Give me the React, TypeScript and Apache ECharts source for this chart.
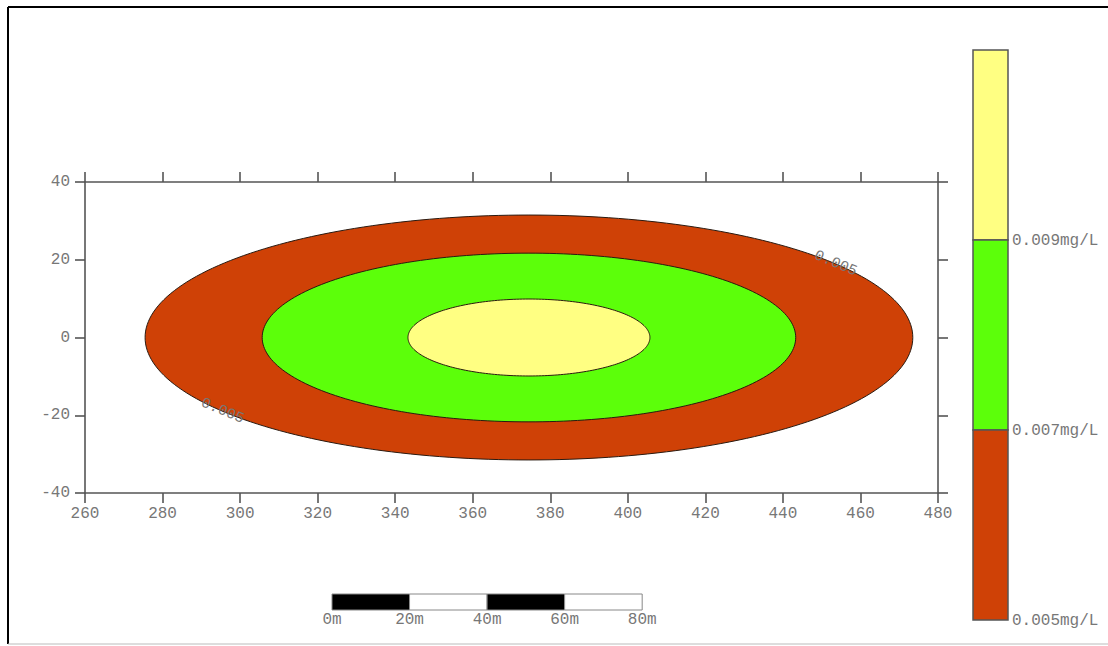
import React, { useEffect, useRef } from "react";
import * as echarts from "echarts";

// Axis ranges
const X_MIN = 260;
const X_MAX = 480;
const X_STEP = 20;
const Y_MIN = -40;
const Y_MAX = 40;
const Y_STEP = 20;

// Contour polygons (ellipses), outer to inner
const contourLevels = [0.005, 0.007, 0.009];
const contourColors = ["#CF4106", "#5CFF0A", "#FFFF82"];
const centerX = [374.5, 374.5, 374.5];
const centerY = [0, 0, 0];
const semiAxisX = [99, 68.8, 31.2];
const semiAxisY = [31.5, 21.7, 9.9];

// Contour line labels
const contourLabelTexts = ["0.005", "0.005"];
const contourLabelLevel = [0, 0];
const contourLabelAngleDeg = [37, 217];

// Colour bar
const legendLabels = ["0.009mg/L", "0.007mg/L", "0.005mg/L"];

// Scale bar
const scaleBarTicks = [0, 20, 40, 60, 80];
const scaleBarLabels = ["0m", "20m", "40m", "60m", "80m"];

const GRID_LEFT = 85;
const GRID_TOP = 182;
const GRID_W = 853;
const GRID_H = 311;

const MONO = "'Liberation Mono', 'DejaVu Sans Mono', monospace";

export default function App() {
  const ref = useRef<HTMLDivElement>(null);

  useEffect(() => {
    if (!ref.current) return;
    const chart = echarts.init(ref.current, null, { renderer: "svg" });

    const ellipseData = contourLevels.map((_, i) => [
      centerX[i],
      centerY[i],
      semiAxisX[i],
      semiAxisY[i],
    ]);
    const labelData = contourLabelTexts.map((_, i) => [
      contourLabelLevel[i],
      contourLabelAngleDeg[i],
    ]);

    const axisLine = { show: true, onZero: false, lineStyle: { color: "#555", width: 1.6 } };
    const axisTick = { show: true, inside: false, length: 10, lineStyle: { color: "#555", width: 1.6 } };
    const axisLabel = { color: "#777", fontFamily: MONO, fontSize: 16 };

    // Colour bar graphics
    const cbX = 973;
    const cbW = 35;
    const cbTop = 50;
    const cbSeg = 190;
    const graphics: any[] = [];
    // frame lines
    graphics.push({ type: "line", shape: { x1: 8, y1: 7, x2: 1108, y2: 7 }, style: { stroke: "#000", lineWidth: 2 } });
    graphics.push({ type: "line", shape: { x1: 8, y1: 7, x2: 8, y2: 644 }, style: { stroke: "#000", lineWidth: 2 } });
    graphics.push({ type: "line", shape: { x1: 8, y1: 644, x2: 1108, y2: 644 }, style: { stroke: "#bbb", lineWidth: 1 } });

    const nLev = contourLevels.length;
    for (let k = 0; k < nLev; k++) {
      const levIdx = nLev - 1 - k; // top is highest level
      graphics.push({
        type: "rect",
        shape: { x: cbX, y: cbTop + k * cbSeg, width: cbW, height: cbSeg },
        style: { fill: contourColors[levIdx], stroke: "#555", lineWidth: 1.5 },
      });
    }
    legendLabels.forEach((t, k) => {
      graphics.push({
        type: "text",
        x: 1012,
        y: cbTop + (k + 1) * cbSeg + 1,
        style: {
          text: t,
          fill: "#777",
          font: `16px ${MONO}`,
          textVerticalAlign: "middle",
          textAlign: "left",
        },
      });
    });

    // Scale bar, length from the x-axis scale
    const pxPerUnit = GRID_W / (X_MAX - X_MIN);
    const sbX = 332;
    const sbY = 594;
    const sbH = 16;
    for (let k = 0; k < scaleBarTicks.length - 1; k++) {
      const x0 = sbX + scaleBarTicks[k] * pxPerUnit;
      const x1 = sbX + scaleBarTicks[k + 1] * pxPerUnit;
      graphics.push({
        type: "rect",
        shape: { x: x0, y: sbY, width: x1 - x0, height: sbH },
        style: { fill: k % 2 === 0 ? "#000" : "#fff", stroke: "#888", lineWidth: 1 },
      });
    }
    scaleBarTicks.forEach((v, k) => {
      graphics.push({
        type: "text",
        x: sbX + v * pxPerUnit,
        y: sbY + sbH + 10,
        style: {
          text: scaleBarLabels[k],
          fill: "#777",
          font: `16px ${MONO}`,
          textAlign: "center",
          textVerticalAlign: "middle",
        },
      });
    });

    chart.setOption({
      animation: false,
      backgroundColor: "#fff",
      grid: { left: GRID_LEFT, top: GRID_TOP, width: GRID_W, height: GRID_H, containLabel: false },
      xAxis: [
        {
          type: "value",
          min: X_MIN,
          max: X_MAX,
          interval: X_STEP,
          position: "bottom",
          axisLine,
          axisTick,
          axisLabel: { ...axisLabel, margin: 13 },
          splitLine: { show: false },
        },
        {
          type: "value",
          min: X_MIN,
          max: X_MAX,
          interval: X_STEP,
          position: "top",
          axisLine,
          axisTick,
          axisLabel: { show: false },
          splitLine: { show: false },
        },
      ],
      yAxis: [
        {
          type: "value",
          min: Y_MIN,
          max: Y_MAX,
          interval: Y_STEP,
          position: "left",
          axisLine,
          axisTick,
          axisLabel: { ...axisLabel, margin: 15 },
          splitLine: { show: false },
        },
        {
          type: "value",
          min: Y_MIN,
          max: Y_MAX,
          interval: Y_STEP,
          position: "right",
          axisLine,
          axisTick,
          axisLabel: { show: false },
          splitLine: { show: false },
        },
      ],
      series: [
        {
          type: "custom",
          xAxisIndex: 0,
          yAxisIndex: 0,
          data: ellipseData,
          encode: { x: 0, y: 1 },
          renderItem: (params: any, api: any) => {
            const i = params.dataIndex;
            const cx = api.value(0);
            const cy = api.value(1);
            const a = api.value(2);
            const b = api.value(3);
            const pts: number[][] = [];
            const N = 240;
            for (let k = 0; k < N; k++) {
              const t = (k / N) * Math.PI * 2;
              pts.push(api.coord([cx + a * Math.cos(t), cy + b * Math.sin(t)]));
            }
            return {
              type: "polygon",
              shape: { points: pts },
              style: { fill: contourColors[i], stroke: "#2a1a10", lineWidth: 1 },
            };
          },
          z: 2,
        },
        {
          type: "custom",
          xAxisIndex: 0,
          yAxisIndex: 0,
          data: labelData,
          encode: { x: 0, y: 1 },
          renderItem: (params: any, api: any) => {
            const i = params.dataIndex;
            const lev = api.value(0);
            const tDeg = api.value(1);
            const t = (tDeg * Math.PI) / 180;
            const cx = centerX[lev];
            const cy = centerY[lev];
            const a = semiAxisX[lev];
            const b = semiAxisY[lev];
            const p = api.coord([cx + a * Math.cos(t), cy + b * Math.sin(t)]);
            const t2 = t + 0.01;
            const p2 = api.coord([cx + a * Math.cos(t2), cy + b * Math.sin(t2)]);
            let ang = Math.atan2(p2[1] - p[1], p2[0] - p[0]);
            if (ang > Math.PI / 2) ang -= Math.PI;
            if (ang < -Math.PI / 2) ang += Math.PI;
            return {
              type: "text",
              x: p[0],
              y: p[1],
              rotation: -ang,
              style: {
                text: contourLabelTexts[i],
                fill: "#777",
                font: `15px ${MONO}`,
                textAlign: "center",
                textVerticalAlign: "middle",
              },
            };
          },
          z: 3,
        },
      ],
      graphic: graphics,
    });

    return () => chart.dispose();
  }, []);

  return (
    <div
      ref={ref}
      style={{ position: "fixed", left: 0, top: 0, width: 1108, height: 646, background: "#fff" }}
    />
  );
}
